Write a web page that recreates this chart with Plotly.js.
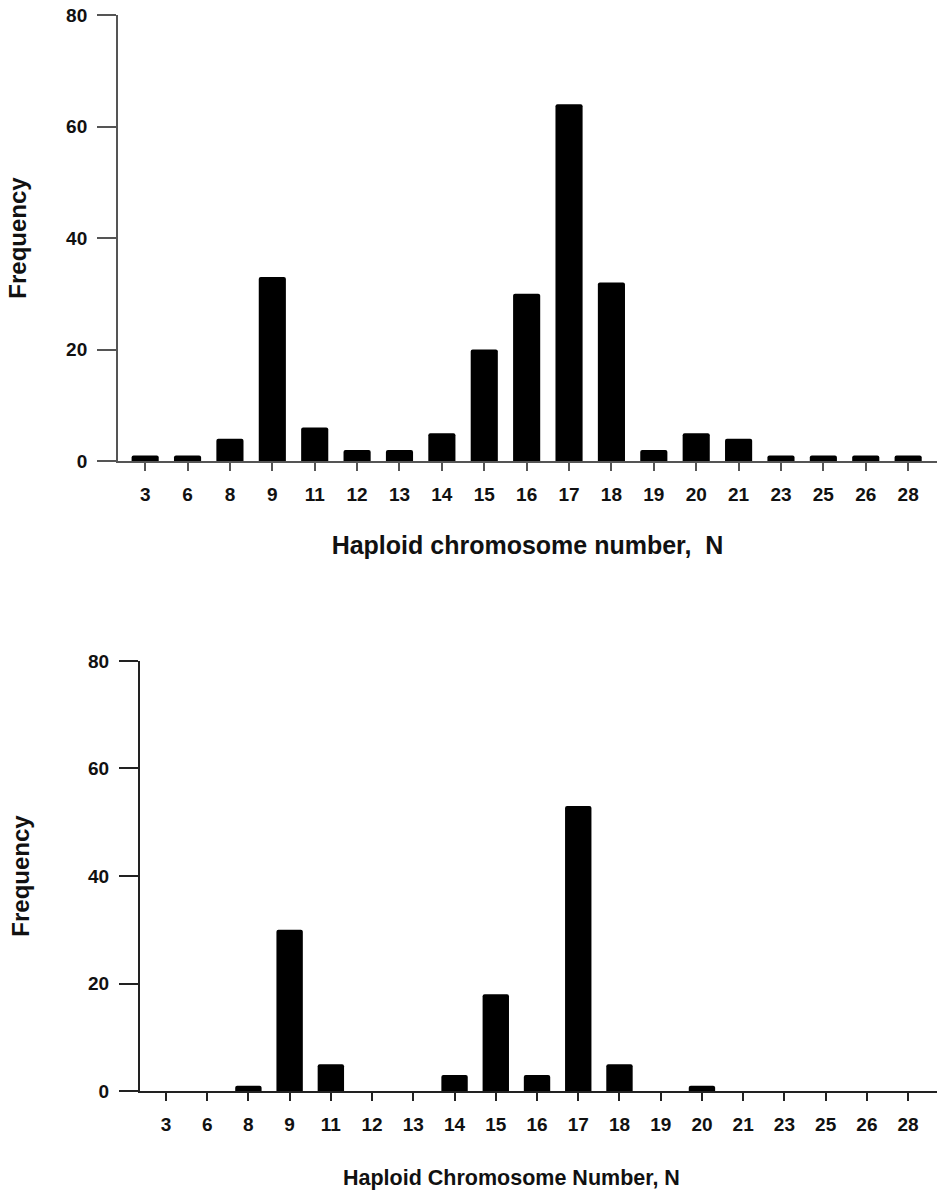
<!DOCTYPE html>
<html>
<head>
<meta charset="utf-8">
<script src="https://cdn.plot.ly/plotly-3.0.1.min.js"></script>
<style>
  body { margin: 0; background: #fff; }
  #chart { width: 945px; height: 1200px; }
</style>
</head>
<body>
<div id="chart"></div>
<script>
// haploid chromosome numbers (categories) and counts
var chromNumbers = ["3", "6", "8", "9", "11", "12", "13", "14", "15", "16", "17", "18", "19", "20", "21", "23", "25", "26", "28"];
var freqTop = [1, 1, 4, 33, 6, 2, 2, 5, 20, 30, 64, 32, 2, 5, 4, 1, 1, 1, 1];
var freqBottom = [0, 0, 1, 30, 5, 0, 0, 3, 18, 3, 53, 5, 0, 1, 0, 0, 0, 0, 0];
var yTicks = [0, 20, 40, 60, 80];

var tickFont = { family: "Liberation Sans, Arial, sans-serif", size: 19, color: "#111", weight: 700 };

function titleFont(size) {
  return { family: "Liberation Sans, Arial, sans-serif", size: size, color: "#111", weight: 700 };
}

var topBars = {
  x: chromNumbers,
  y: freqTop,
  type: "bar",
  xaxis: "x",
  yaxis: "y",
  width: 0.64,
  marker: { color: "#000", cornerradius: 2 },
  hoverinfo: "x+y",
};

var bottomBars = {
  x: chromNumbers,
  y: freqBottom,
  type: "bar",
  xaxis: "x2",
  yaxis: "y2",
  width: 0.64,
  marker: { color: "#000", cornerradius: 2 },
  hoverinfo: "x+y",
};

function xAxis(domain, anchor, title, size, standoff, lineColor) {
  return {
    domain: domain,
    anchor: anchor,
    type: "category",
    range: [-0.64, 18.68],
    showline: true,
    linecolor: lineColor,
    linewidth: 2,
    ticks: "outside",
    ticklen: 8,
    tickwidth: 2,
    tickcolor: lineColor,
    ticklabelstandoff: 7,
    tickfont: tickFont,
    showgrid: false,
    zeroline: false,
    fixedrange: true,
    title: { text: title, font: titleFont(size), standoff: standoff },
  };
}

function yAxis(domain, anchor, standoff, lineColor) {
  return {
    domain: domain,
    anchor: anchor,
    range: [0, 80],
    tickvals: yTicks,
    showline: true,
    linecolor: lineColor,
    linewidth: 2,
    ticks: "outside",
    ticklen: 19,
    tickwidth: 2,
    tickcolor: lineColor,
    ticklabelstandoff: 6,
    tickfont: tickFont,
    showgrid: false,
    zeroline: false,
    fixedrange: true,
    title: { text: "Frequency", font: titleFont(24), standoff: standoff },
  };
}

var layout = {
  width: 945,
  height: 1200,
  margin: { l: 0, r: 0, t: 0, b: 0 },
  paper_bgcolor: "#fff",
  plot_bgcolor: "#fff",
  showlegend: false,
  xaxis: xAxis([0.1249, 0.9915], "y", "Haploid chromosome number,  N", 25, 33, "#555"),
  yaxis: yAxis([0.6158, 0.9875], "x", 33, "#555"),
  xaxis2: xAxis([0.1481, 0.9915], "y2", "", 21.5, 37, "#222"),
  yaxis2: yAxis([0.0908, 0.4492], "x2", 52, "#222"),
  // the lower title sits a little left of its axis centre in the original
  annotations: [
    {
      text: "Haploid Chromosome Number, N",
      font: titleFont(21.5),
      xref: "paper",
      yref: "paper",
      x: 0.541,
      y: 0.0183,
      xanchor: "center",
      yanchor: "middle",
      showarrow: false,
    },
  ],
};
layout.xaxis2.range = [-0.63, 18.7];

var config = { displayModeBar: false, responsive: false };

Plotly.newPlot("chart", [topBars, bottomBars], layout, config);
</script>
</body>
</html>
